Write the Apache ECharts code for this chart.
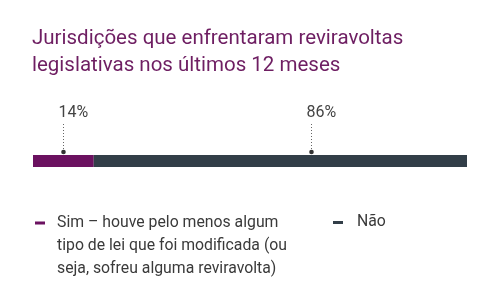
<!DOCTYPE html>
<html>
<head>
<meta charset="utf-8">
<script src="https://cdn.jsdelivr.net/npm/echarts@6/dist/echarts.min.js"></script>
<style>
html,body{margin:0;padding:0;background:#fff;}
#chart{width:500px;height:307px;}
</style>
</head>
<body>
<div id="chart"></div>
<script>
var titleText = 'Jurisdições que enfrentaram reviravoltas\nlegislativas nos últimos 12 meses';
var categories = ['Jurisdições'];
var seriesNames = ['Sim', 'Não'];
var legendTexts = ['Sim – houve pelo menos algum\ntipo de lei que foi modificada (ou\nseja, sofreu alguma reviravolta)', 'Não'];
var simValues = [14];
var naoValues = [86];
var labelAnchors = [7, 64];
var labelValues = [simValues[0], naoValues[0]];
var colors = ['#6b1160', '#323e48'];

var chart = echarts.init(document.getElementById('chart'), null, {renderer: 'canvas'});
var font = 'Roboto, "Noto Sans", sans-serif';

var option = {
  animation: false,
  textStyle: {fontFamily: font},
  title: {
    text: titleText,
    left: 32, top: 25, padding: 0,
    textStyle: {fontFamily: font, fontSize: 20.5, fontWeight: 'normal', color: '#6e1e62', lineHeight: 27}
  },
  legend: [{
    data: [seriesNames[0]],
    left: 35, top: 211.5, padding: 0,
    itemWidth: 10, itemHeight: 69, itemGap: 0,
    icon: 'path://M0,10 L10,10 L10,13 L0,13 Z M0,0 L0.01,0 Z M0,69 L0.01,69 Z',
    itemStyle: {borderWidth: 0},
    selectedMode: false,
    formatter: function () { return legendTexts[0]; },
    textStyle: {fontFamily: font, fontSize: 15.8, color: '#3a3a3a', lineHeight: 23, padding: [0, 0, 0, 7]}
  }, {
    data: [seriesNames[1]],
    left: 333, top: 211, padding: 0,
    itemWidth: 10, itemHeight: 3,
    icon: 'rect',
    itemStyle: {borderWidth: 0},
    selectedMode: false,
    formatter: function () { return legendTexts[1]; },
    textStyle: {fontFamily: font, fontSize: 15.8, color: '#3a3a3a', lineHeight: 23, padding: [0, 0, 0, 9]}
  }],
  grid: {left: 33, right: 33, top: 155, height: 12},
  xAxis: {type: 'value', min: 0, max: 100, show: false},
  yAxis: {type: 'category', data: categories, show: false},
  series: [{
    name: seriesNames[0], type: 'bar', stack: 'total', barWidth: 12,
    itemStyle: {color: colors[0]}, data: simValues
  }, {
    name: seriesNames[1], type: 'bar', stack: 'total', barWidth: 12,
    itemStyle: {color: colors[1]}, data: naoValues
  }, {
    name: 'labels', type: 'custom', silent: true, z: 10,
    data: labelAnchors.map(function (a, i) { return [a, 0, labelValues[i]]; }),
    renderItem: function (params, api) {
      var p = api.coord([api.value(0), api.value(1)]);
      var x = Math.round(p[0]) + 0.5;
      var y = p[1];
      return {
        type: 'group',
        children: [{
          type: 'line',
          shape: {x1: x, y1: y - 37, x2: x, y2: y - 11},
          style: {stroke: '#666', lineWidth: 1, lineDash: [1, 2]}
        }, {
          type: 'circle',
          shape: {cx: x, cy: y - 9, r: 2.3},
          style: {fill: '#333'}
        }, {
          type: 'text',
          style: {
            x: x - 5, y: y - 48, text: api.value(2) + '%',
            fontFamily: font, fontSize: 16, fill: '#444',
            align: 'left', verticalAlign: 'middle'
          }
        }]
      };
    }
  }]
};
chart.setOption(option);
</script>
</body>
</html>
